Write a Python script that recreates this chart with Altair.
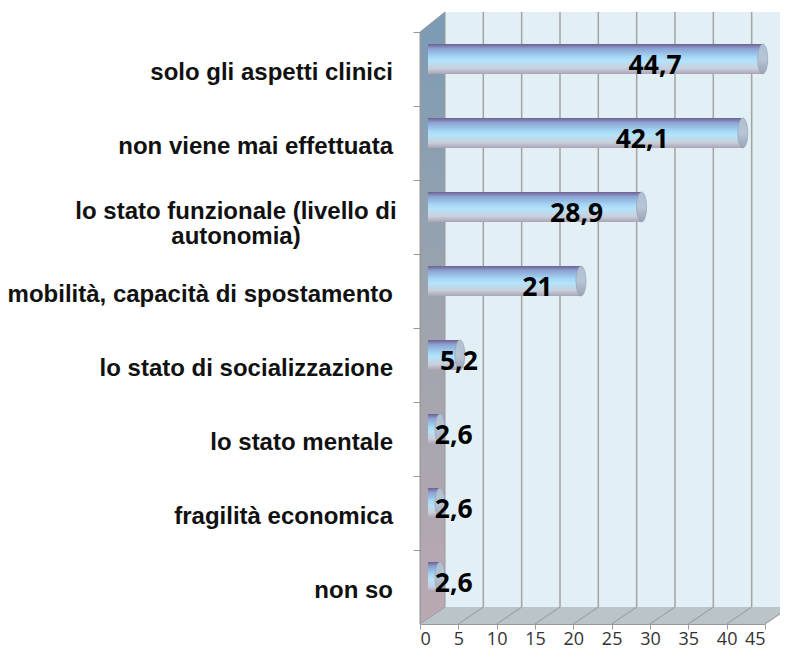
import altair as alt
import pandas as pd

categories = [
    "solo gli aspetti clinici",
    "non viene mai effettuata",
    "lo stato funzionale (livello di autonomia)",
    "mobilità, capacità di spostamento",
    "lo stato di socializzazione",
    "lo stato mentale",
    "fragilità economica",
    "non so",
]
display_labels = [
    "solo gli aspetti clinici",
    "non viene mai effettuata",
    "lo stato funzionale (livello di\nautonomia)",
    "mobilità, capacità di spostamento",
    "lo stato di socializzazione",
    "lo stato mentale",
    "fragilità economica",
    "non so",
]
values = [44.7, 42.1, 28.9, 21, 5.2, 2.6, 2.6, 2.6]
x_ticks = [0, 5, 10, 15, 20, 25, 30, 35, 40, 45]

df = pd.DataFrame({
    "cat": categories,
    "disp": display_labels,
    "value": values,
    "label": [f"{v:g}".replace(".", ",") for v in values],
    "wrap": ["\n" in d for d in display_labels],
})
ticks_df = pd.DataFrame({"tick": x_ticks[1:]})
one = pd.DataFrame({"k": [0]})

W, H = 345, 592
DEPTH_X, DEPTH_Y = 25, 17

xscale = alt.Scale(domain=[0, 45], nice=False, zero=True)
yscale = alt.Scale(paddingInner=0, paddingOuter=0)
ysort = categories

x_axis = alt.Axis(
    values=x_ticks, title=None, grid=False, domainColor="#999999",
    tickColor="#999999", tickSize=5, labelFont="Open Sans",
    labelFontSize=18, labelColor="#333333", labelPadding=1,
    labelOverlap=False, zindex=1,
)
y_axis = alt.Axis(
    labels=False, title=None, grid=False, bandPosition=0,
    tickSize=7, tickColor="#999999", domainColor="#999999", zindex=1,
)


def X(field):
    return alt.X(field, scale=xscale, axis=x_axis)


def Y():
    return alt.Y("cat:N", sort=ysort, scale=yscale, axis=y_axis)


# 3D decorations: back wall, floor, left wall
back_wall = alt.Chart(one).mark_point(
    shape=f"M{DEPTH_X},-20 L{W + 40},-20 L{W + 40},{H - DEPTH_Y} L{DEPTH_X},{H - DEPTH_Y} Z",
    size=4, filled=True, fill="#e2f0f6", opacity=1, strokeWidth=0,
).encode(x=alt.value(0), y=alt.value(0))

floor = alt.Chart(one).mark_point(
    shape=f"M0,{H} L{DEPTH_X},{H - DEPTH_Y} L{W + DEPTH_X},{H - DEPTH_Y} L{W},{H} Z",
    size=4, filled=True, fill="#b9c5c8", opacity=1, strokeWidth=0,
).encode(x=alt.value(0), y=alt.value(0))

left_wall = alt.Chart(one).mark_point(
    shape=f"M0,0 L{DEPTH_X},-20 L{DEPTH_X},{H - DEPTH_Y} L0,{H} Z",
    size=4, filled=True, opacity=1, stroke="#9a9a9a", strokeWidth=1,
    fill=alt.Gradient(
        gradient="linear", x1=0, y1=0, x2=0, y2=1,
        stops=[
            alt.GradientStop(offset=0, color="#7b9bb5"),
            alt.GradientStop(offset=0.5, color="#9ea4ad"),
            alt.GradientStop(offset=1, color="#bba9b3"),
        ],
    ),
).encode(x=alt.value(0), y=alt.value(0))

grid_back = alt.Chart(ticks_df).mark_rule(
    color="#a3a3a3", strokeWidth=1.5, xOffset=DEPTH_X
).encode(
    x=X("tick:Q"),
    y=alt.value(-20),
    y2=alt.value(H - DEPTH_Y),
)

grid_floor = alt.Chart(ticks_df).mark_rule(
    color="#a3a3a3", strokeWidth=1.2, x2Offset=DEPTH_X
).encode(
    x=X("tick:Q"),
    x2=alt.X2("tick:Q"),
    y=alt.value(H),
    y2=alt.value(H - DEPTH_Y),
)

bar_fill = alt.Gradient(
    gradient="linear", x1=0, y1=0, x2=0, y2=1,
    stops=[
        alt.GradientStop(offset=0, color="#6e6090"),
        alt.GradientStop(offset=0.15, color="#8aa2d2"),
        alt.GradientStop(offset=0.42, color="#a4d6f5"),
        alt.GradientStop(offset=0.58, color="#b6e3f9"),
        alt.GradientStop(offset=0.82, color="#c8cfdb"),
        alt.GradientStop(offset=1, color="#aaa3b6"),
    ],
)

bars = alt.Chart(df).mark_bar(
    size=30, yOffset=-10, x2Offset=8, fill=bar_fill, strokeWidth=0
).encode(
    x=X("value:Q"),
    x2=alt.datum(0),
    y=Y(),
)

caps = alt.Chart(df).mark_point(
    shape="M-5,0 A5,15 0 1,0 5,0 A5,15 0 1,0 -5,0 Z",
    size=4, filled=True, opacity=1, yOffset=-10,
    fill=alt.Gradient(
        gradient="linear", x1=0, y1=0, x2=0, y2=1,
        stops=[
            alt.GradientStop(offset=0, color="#aebfd2"),
            alt.GradientStop(offset=0.5, color="#b7c6d6"),
            alt.GradientStop(offset=1, color="#9ba3b5"),
        ],
    ),
    stroke="#8e9cb2", strokeWidth=0.6,
).encode(
    x=X("value:Q"),
    y=Y(),
)

value_labels = alt.Chart(df).transform_calculate(
    lx="max(1.7 + 0.648 * datum.value, 4.4)"
).mark_text(
    font="Open Sans", fontWeight="bold", fontSize=26.5, color="#000000",
    align="center", baseline="alphabetic", yOffset=5,
).encode(
    x=X("lx:Q"),
    y=Y(),
    text="label:N",
)

cat_labels = alt.Chart(df).transform_filter("!datum.wrap").mark_text(
    font="Liberation Sans", fontWeight="bold", fontSize=24, color="#111111",
    align="right", baseline="alphabetic", yOffset=11,
).encode(
    x=alt.value(-27),
    y=Y(),
    text="disp:N",
)

cat_labels_wrap = alt.Chart(df).transform_filter("datum.wrap").mark_text(
    font="Liberation Sans", fontWeight="bold", fontSize=24, color="#111111",
    align="center", baseline="alphabetic", yOffset=2, lineBreak="\n",
    lineHeight=25,
).encode(
    x=alt.value(-184),
    y=Y(),
    text="disp:N",
)

chart = alt.layer(
    back_wall, floor, left_wall, grid_back, grid_floor,
    bars, caps, value_labels, cat_labels, cat_labels_wrap,
).properties(
    width=W, height=H,
    autosize=alt.AutoSizeParams(type="none"),
    padding={"left": 412, "top": 24, "right": 15, "bottom": 31},
    background="#ffffff",
).configure_view(strokeWidth=0)

chart.save("out.html", embed_options={"renderer": "svg", "actions": False})
